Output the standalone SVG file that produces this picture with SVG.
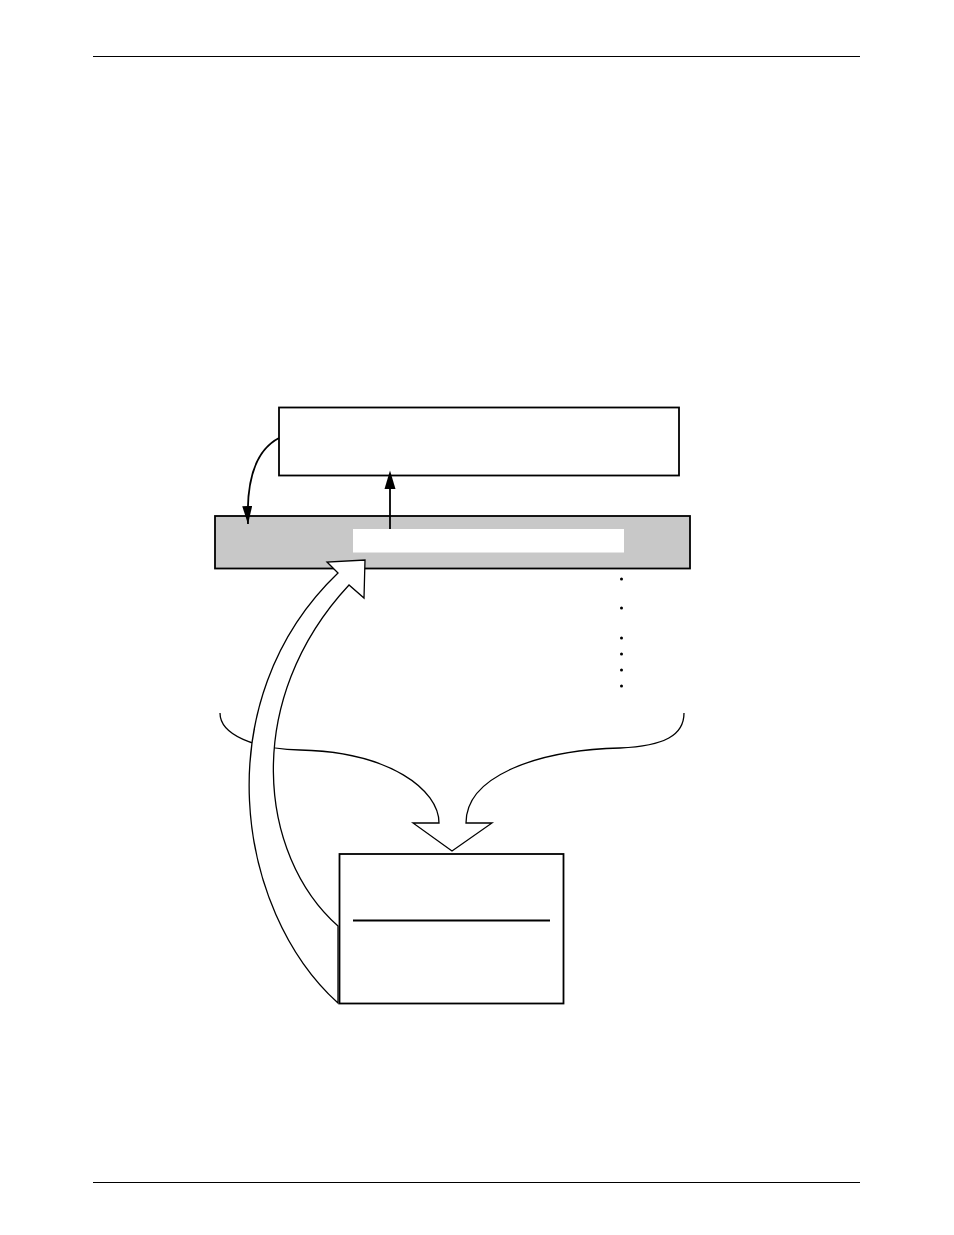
<svg xmlns="http://www.w3.org/2000/svg" width="954" height="1235" viewBox="0 0 954 1235">
<style>
.rule{stroke:#000;stroke-width:1.2;fill:none}
.box{fill:#fff;stroke:#000;stroke-width:1.8}
.bar{fill:#c8c8c8;stroke:#000;stroke-width:1.8}
.thin{fill:none;stroke:#000;stroke-width:1.8}
.blk{fill:#fff;stroke:#000;stroke-width:1.3;stroke-linejoin:miter}
.dot{fill:#000}
</style>
<defs>
<marker id="ah" viewBox="0 0 18 10" refX="18" refY="5" markerWidth="18" markerHeight="10" markerUnits="userSpaceOnUse" orient="auto">
<path d="M0,0 L18,5 L0,10 Z" fill="#000"/>
</marker>
</defs>
<rect width="954" height="1235" fill="#fff"/>
<g id="page-rules">
<line class="rule" x1="93" y1="56.5" x2="860" y2="56.5"/>
<line class="rule" x1="93" y1="1182.5" x2="860" y2="1182.5"/>
</g>
<g id="top-box">
<rect class="box" x="279" y="407.5" width="400" height="68"/>
</g>
<g id="gray-bar">
<rect class="bar" x="215" y="516" width="475" height="52.5"/>
<rect x="353" y="529" width="271" height="23.5" fill="#fff"/>
</g>
<g id="dots">
<circle class="dot" cx="621.5" cy="579" r="1.5"/>
<circle class="dot" cx="621.5" cy="608" r="1.5"/>
<circle class="dot" cx="621.5" cy="638" r="1.5"/>
<circle class="dot" cx="621.5" cy="654" r="1.5"/>
<circle class="dot" cx="621.5" cy="670" r="1.5"/>
<circle class="dot" cx="621.5" cy="686" r="1.5"/>
</g>
<g id="bottom-box">
<rect class="box" x="339.5" y="854" width="224" height="149.5"/>
<line x1="353" y1="920.5" x2="550" y2="920.5" stroke="#000" stroke-width="2"/>
</g>
<g id="connectors">
<path class="thin" d="M279,438 C256,450 246,478 248,524" marker-end="url(#ah)"/>
<line x1="390" y1="529" x2="390" y2="488" stroke="#000" stroke-width="1.8"/>
<path d="M384.5,489 L390,470.5 L395.5,489 Z" fill="#000"/>
<path class="blk" d="M220,713 C220,735 255,749 300,750 C390,752 439,790 439,823 L413,823 L452,851 L492,823 L466,823 C466,775 540,750 620,748 C665,746 684,735 684,713" fill="none"/>
<path class="blk" d="M338,1003 C235,910 205,700 338,573 L327,562 L365,560 L364,598 L349,585 C242,700 258,855 338,926 Z"/>
</g>
</svg>
